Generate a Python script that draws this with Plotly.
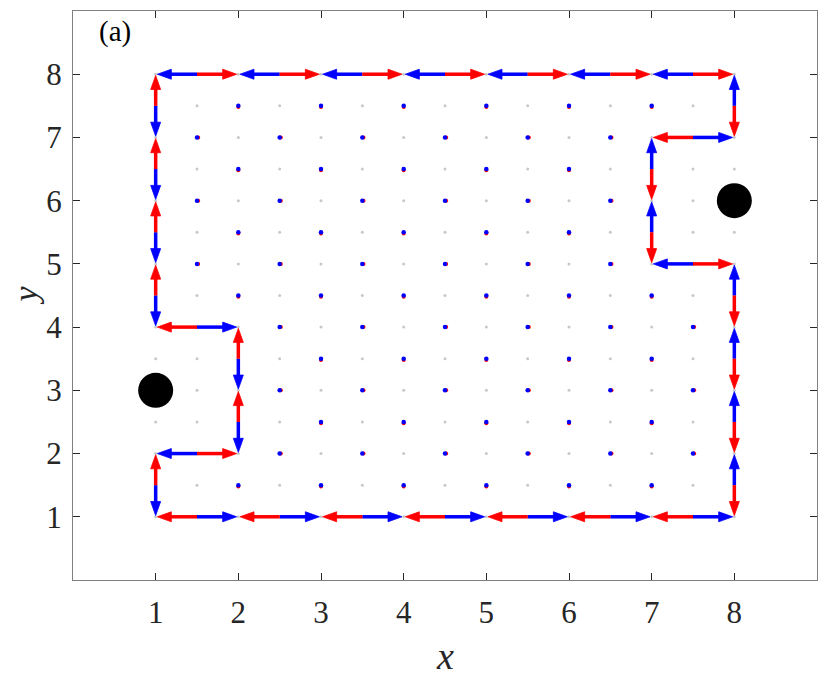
import numpy as np
import plotly.graph_objects as go

# ---------------- data ----------------
# closed loop of lattice vertices (clockwise); red arrows point along it, blue against it
loop_x = [1, 2, 3, 4, 5, 6, 7, 8, 8, 7, 7, 7, 8, 8, 8, 8, 8, 7, 6, 5, 4, 3, 2, 1, 1, 2, 2, 2, 1, 1, 1, 1, 1]
loop_y = [8, 8, 8, 8, 8, 8, 8, 8, 7, 7, 6, 5, 5, 4, 3, 2, 1, 1, 1, 1, 1, 1, 1, 1, 2, 2, 3, 4, 4, 5, 6, 7, 8]
arrow_frac = 0.48          # arrow length as fraction of an edge
# unit squares (lower-left corners) that lie outside the loop
notch_sq_x = [1, 1, 7, 7]
notch_sq_y = [2, 3, 5, 6]
# black discs
disc_x = [1, 8]
disc_y = [3, 6]
ticks = [1, 2, 3, 4, 5, 6, 7, 8]
lattice_min, lattice_max = 1, 8

# ---------------- layout geometry ----------------
W, H = 822, 669
ml, mr, mt, mb = 65, 13, 3, 97
pw, ph = W - ml - mr, H - mt - mb
xr, yr = [0, 9], [0, 9]
sx = pw / (xr[1] - xr[0])
sy = ph / (yr[1] - yr[0])

HEAD_L, HEAD_HW = 14.0, 5.0
SERIF = "Times New Roman, Liberation Serif, serif"


def arrow_geom(mx, my, tx, ty):
    dx, dy = (tx - mx) * sx, -(ty - my) * sy
    L = np.hypot(dx, dy)
    ux, uy = dx / L, dy / L
    bx, by = dx - ux * HEAD_L, dy - uy * HEAD_L
    nx, ny = -uy, ux
    to_d = lambda px, py: (mx + px / sx, my - py / sy)
    shaft_end = to_d(bx + ux * 2, by + uy * 2)
    c1 = to_d(bx + nx * HEAD_HW, by + ny * HEAD_HW)
    c2 = to_d(bx - nx * HEAD_HW, by - ny * HEAD_HW)
    return shaft_end, c1, c2


shaft = {"red": ([], []), "blue": ([], [])}
head = {"red": ([], []), "blue": ([], [])}
for i in range(len(loop_x) - 1):
    ax_, ay_ = loop_x[i], loop_y[i]
    bx_, by_ = loop_x[i + 1], loop_y[i + 1]
    mx, my = (ax_ + bx_) / 2, (ay_ + by_) / 2
    ex, ey = bx_ - ax_, by_ - ay_
    for col, sgn in (("red", 1), ("blue", -1)):
        tx, ty = mx + sgn * arrow_frac * ex, my + sgn * arrow_frac * ey
        se, c1, c2 = arrow_geom(mx, my, tx, ty)
        shaft[col][0].extend([mx, se[0], None])
        shaft[col][1].extend([my, se[1], None])
        head[col][0].extend([tx, c1[0], c2[0], tx, None])
        head[col][1].extend([ty, c1[1], c2[1], ty, None])

# interior edges of the enclosed region
notch = set(zip(notch_sq_x, notch_sq_y))
inside = lambda i, j: lattice_min <= i < lattice_max and lattice_min <= j < lattice_max and (i, j) not in notch
interior = []
for i in range(lattice_min, lattice_max + 1):
    for j in range(lattice_min, lattice_max):
        if inside(i - 1, j) and inside(i, j):
            interior.append((i, j + 0.5, "v"))
for i in range(lattice_min, lattice_max):
    for j in range(lattice_min, lattice_max + 1):
        if inside(i, j - 1) and inside(i, j):
            interior.append((i + 0.5, j, "h"))
interior_set = {(p[0], p[1]) for p in interior}

half = np.arange(lattice_min, lattice_max + 0.01, 0.5)
gx, gy = [], []
for x in half:
    for y in half:
        if (float(x), float(y)) not in interior_set:
            gx.append(float(x)); gy.append(float(y))

fig = go.Figure()
fig.add_trace(go.Scatter(x=gx, y=gy, mode="markers",
                         marker=dict(size=3, color="#c8c8c8"), hoverinfo="skip"))
# tiny arrows at interior edges (drawn as tiny red/blue dots)
rx = [p[0] + (0.014 if p[2] == "h" else 0.0) for p in interior]
ry = [p[1] - (0.02 if p[2] == "v" else 0.0) for p in interior]
fig.add_trace(go.Scatter(x=rx, y=ry, mode="markers",
                         marker=dict(size=4, color="#ff0000"), hoverinfo="skip"))
fig.add_trace(go.Scatter(x=[p[0] for p in interior], y=[p[1] for p in interior], mode="markers",
                         marker=dict(size=4.5, color="#0000ff"), hoverinfo="skip"))

for col, c in (("blue", "#0000ff"), ("red", "#ff0000")):
    fig.add_trace(go.Scatter(x=shaft[col][0], y=shaft[col][1], mode="lines",
                             line=dict(color=c, width=3.5), hoverinfo="skip"))
    fig.add_trace(go.Scatter(x=head[col][0], y=head[col][1], mode="lines", fill="toself",
                             fillcolor=c, line=dict(color=c, width=0.8), hoverinfo="skip"))

fig.add_trace(go.Scatter(x=disc_x, y=disc_y, mode="markers",
                         marker=dict(size=35, color="black"), hoverinfo="skip"))

axis_common = dict(range=xr, tickvals=ticks, ticktext=[str(t) for t in ticks],
                   ticks="inside", ticklen=7, tickwidth=1, tickcolor="#262626",
                   showline=True, linecolor="#808080", linewidth=1.3, mirror="ticks",
                   showgrid=False, zeroline=False,
                   tickfont=dict(family=SERIF, size=31, color="#262626"))
fig.update_layout(
    width=W, height=H, margin=dict(l=ml, r=mr, t=mt, b=mb),
    paper_bgcolor="white", plot_bgcolor="white", showlegend=False,
    xaxis=dict(axis_common, ticklabelstandoff=5),
    yaxis=dict(axis_common, range=yr, ticklabelstandoff=4),
    annotations=[
        dict(text="<i>x</i>", xref="paper", yref="paper", x=0.5, y=0, yshift=-76,
             xanchor="center", yanchor="middle", showarrow=False,
             font=dict(family=SERIF, size=38, color="#262626")),
        dict(text="<i>y</i>", xref="paper", yref="paper", x=0, y=0.5, xshift=-48,
             xanchor="center", yanchor="middle", textangle=-90, showarrow=False,
             font=dict(family=SERIF, size=34, color="#262626")),
        dict(text="(a)", xref="x", yref="y", x=0.29, y=8.67, xanchor="left", yanchor="middle",
             showarrow=False, font=dict(family=SERIF, size=29, color="black")),
    ],
)
fig.write_html("out.html")
